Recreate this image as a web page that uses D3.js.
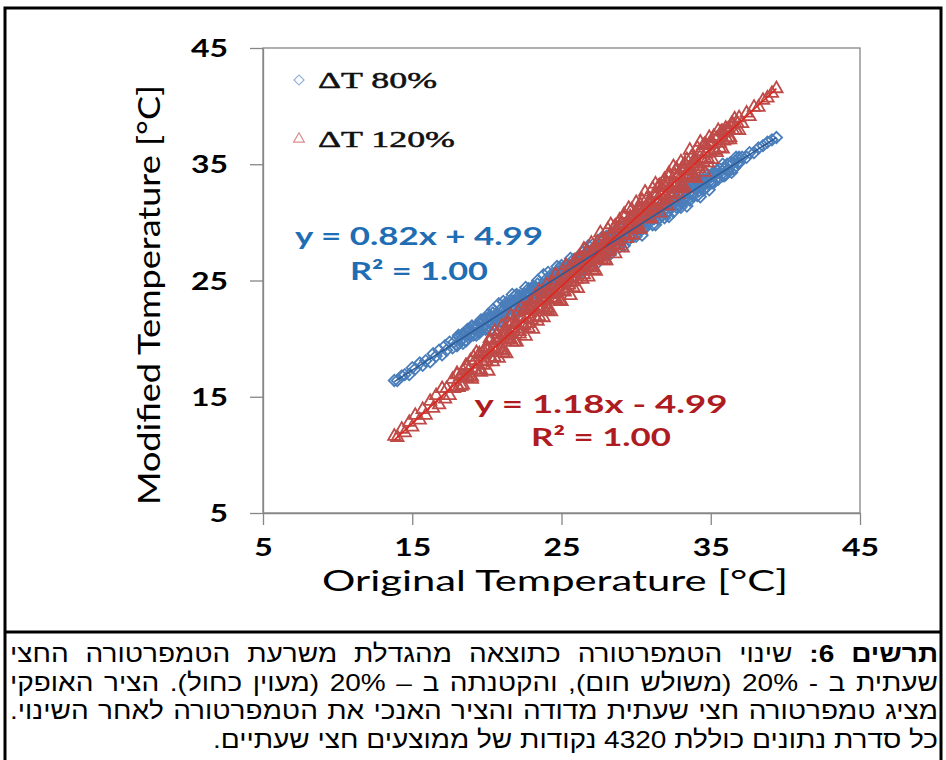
<!DOCTYPE html>
<html>
<head>
<meta charset="utf-8">
<script src="https://cdn.jsdelivr.net/npm/d3@7"></script>
<style>
  body { margin: 0; background: #fff; }
  svg { display: block; }
</style>
</head>
<body>
<svg id="chart" width="946" height="760"></svg>
<script>
// ---- data -------------------------------------------------------------
const xTicks = [5, 15, 25, 35, 45];
const yTicks = [5, 15, 25, 35, 45];

// half-hourly original temperature (°C), shared by both series
const originalTemp = [
  13.8, 14.0, 14.3, 14.5, 14.8, 15.0, 15.2, 15.5, 15.7, 15.9, 16.2, 16.4, 16.6, 16.8, 17.0, 17.2, 17.3,
  17.5, 17.7, 17.8, 18.0, 18.1, 18.3, 18.4, 18.6, 18.7, 18.9, 19.0, 19.2, 19.3, 19.5, 19.6, 19.8, 19.9,
  20.0, 20.1, 20.2, 20.3, 20.4, 20.5, 20.6, 20.7, 20.8, 20.9,
  21.0, 21.1, 21.2, 21.3, 21.4, 21.5, 21.6, 21.7, 21.8, 21.9,
  22.0, 22.1, 22.2, 22.3, 22.4, 22.5, 22.6, 22.7, 22.8, 22.9,
  23.0, 23.1, 23.2, 23.3, 23.4, 23.5, 23.6, 23.7, 23.8, 23.9,
  24.0, 24.1, 24.2, 24.3, 24.4, 24.5, 24.6, 24.7, 24.8, 24.9,
  25.0, 25.1, 25.2, 25.3, 25.4, 25.5, 25.6, 25.7, 25.8, 25.9,
  26.0, 26.1, 26.2, 26.3, 26.4, 26.5, 26.6, 26.7, 26.8, 26.9,
  27.0, 27.1, 27.2, 27.3, 27.4, 27.5, 27.6, 27.7, 27.8, 27.9,
  28.0, 28.1, 28.2, 28.3, 28.4, 28.5, 28.6, 28.7, 28.8, 28.9,
  29.0, 29.1, 29.2, 29.3, 29.4, 29.5, 29.6, 29.7, 29.8, 29.9,
  30.0, 30.1, 30.2, 30.3, 30.4, 30.5, 30.6, 30.7, 30.8, 30.9,
  31.0, 31.1, 31.2, 31.3, 31.4, 31.5, 31.6, 31.7, 31.8, 31.9,
  32.0, 32.1, 32.2, 32.3, 32.4, 32.5, 32.6, 32.7, 32.8, 32.9,
  33.0, 33.1, 33.2, 33.3, 33.4, 33.5, 33.6, 33.7, 33.8, 33.9,
  34.0, 34.1, 34.2, 34.3, 34.4, 34.5, 34.6, 34.7, 34.8, 34.9,
  35.0, 35.1, 35.3, 35.4, 35.6, 35.8, 35.9, 36.1, 36.3, 36.5, 36.7, 36.9, 37.1, 37.4, 37.6, 37.9,
  38.2, 38.5, 38.8, 39.1, 39.4,
  18.0, 18.1, 18.2, 18.3, 18.4, 18.5, 18.6, 18.7, 18.8, 18.9,
  19.0, 19.1, 19.2, 19.3, 19.4, 19.5, 19.6, 19.7, 19.8, 19.9,
  20.0, 20.1, 20.2, 20.3, 20.4, 20.5, 20.6, 20.7, 20.8, 20.9,
  21.0, 21.1, 21.2, 21.3, 21.4, 21.5, 21.6, 21.7, 21.8, 21.9,
  22.0, 22.1, 22.2, 22.3, 22.4, 22.5, 22.6, 22.7, 22.8, 22.9,
  23.0, 23.1, 23.2, 23.3, 23.4, 23.5, 23.6, 23.7, 23.8, 23.9,
  24.0, 24.1, 24.2, 24.3, 24.4, 24.5, 24.6, 24.7, 24.8, 24.9,
  25.0, 25.1, 25.2, 25.3, 25.4, 25.5, 25.6, 25.7, 25.8, 25.9,
  26.0, 26.1, 26.2, 26.3, 26.4, 26.5, 26.6, 26.7, 26.8, 26.9,
  27.0, 27.1, 27.2, 27.3, 27.4, 27.5, 27.6, 27.7, 27.8, 27.9,
  28.0, 28.1, 28.2, 28.3, 28.4, 28.5, 28.6, 28.7, 28.8, 28.9,
  29.0, 29.1, 29.2, 29.3, 29.4, 29.5, 29.6, 29.7, 29.8, 29.9,
  30.0, 30.1, 30.2, 30.3, 30.4, 30.5, 30.6, 30.7, 30.8, 30.9,
  31.0, 31.1, 31.2, 31.3, 31.4, 31.5, 31.6, 31.7, 31.8, 31.9,
  32.0, 32.1, 32.2, 32.3, 32.4, 32.5, 32.6, 32.7, 32.8, 32.9,
  33.0, 33.1, 33.2, 33.3, 33.4, 33.5, 33.6, 33.7, 33.8, 33.9,
  34.0, 34.1, 34.2, 34.3, 34.4, 34.5, 34.6, 34.7, 34.8, 34.9,
  35.0, 35.1, 35.2, 35.3, 35.4, 35.5, 35.6, 35.7, 35.8, 35.9,
  36.0, 36.1, 36.2, 36.3, 36.4, 36.5, 36.6, 36.7, 36.8, 36.9
];

// modified temperature, amplitude reduced to 80% (°C)
const modified80 = [
  16.4, 16.4, 16.8, 16.9, 16.9, 17.5, 17.4, 17.9, 17.7, 18.1, 18.0, 18.7, 18.5, 19.0, 18.6, 19.4, 19.0,
  19.7, 19.2, 19.7, 19.4, 20.2, 19.9, 20.4, 19.8, 20.5, 20.3, 21.0, 20.4, 20.9, 20.5, 21.4, 21.0, 21.7,
  21.7, 21.1, 21.6, 21.4, 22.2, 21.7, 22.1, 21.5, 22.0, 22.5,
  21.9, 22.5, 22.3, 22.9, 22.0, 22.9, 22.7, 22.9, 22.5, 23.2,
  23.1, 23.6, 22.9, 23.3, 23.2, 23.8, 23.0, 23.9, 23.9, 23.7,
  24.2, 23.5, 24.1, 23.9, 24.7, 24.2, 24.5, 23.9, 24.5, 25.0,
  24.4, 25.0, 24.7, 25.3, 24.5, 25.4, 25.2, 25.3, 24.9, 25.6,
  25.6, 26.1, 25.4, 25.7, 25.6, 26.3, 25.5, 26.4, 26.4, 26.1,
  26.6, 26.0, 26.6, 26.4, 27.1, 26.6, 27.0, 26.4, 27.0, 27.5,
  26.8, 27.4, 27.2, 27.8, 27.0, 27.8, 27.6, 27.8, 27.4, 28.1,
  28.1, 28.5, 27.8, 28.2, 28.1, 28.8, 27.9, 28.8, 28.8, 28.6,
  29.1, 28.5, 29.0, 28.8, 29.6, 29.1, 29.5, 28.8, 29.4, 29.9,
  29.3, 29.9, 29.7, 30.2, 29.4, 30.3, 30.1, 30.3, 29.9, 30.5,
  30.5, 31.0, 30.3, 30.7, 30.5, 31.2, 30.4, 31.3, 31.3, 31.1,
  31.5, 30.9, 31.5, 31.3, 32.1, 31.5, 31.9, 31.3, 31.9, 32.4,
  31.8, 32.3, 32.1, 32.7, 31.9, 32.8, 32.5, 32.7, 32.3, 33.0,
  33.0, 33.5, 32.7, 33.1, 33.0, 33.7, 32.9, 33.7, 33.7, 33.5,
  33.9, 33.4, 34.2, 33.8, 34.6, 34.0, 34.6, 34.5, 35.1, 34.6, 35.3, 35.1, 35.6, 35.6, 36.0, 36.0,
  36.4, 36.6, 36.9, 37.1, 37.3,
  19.4, 20.3, 19.8, 20.3, 19.6, 20.4, 19.9, 20.8, 20.3, 20.8,
  21.1, 20.3, 21.0, 20.3, 21.0, 20.7, 21.6, 20.9, 21.6, 20.8,
  20.9, 22.1, 20.7, 21.9, 22.5, 21.1, 22.0, 21.7, 23.0, 21.5,
  21.4, 23.2, 22.1, 23.1, 21.5, 23.0, 22.1, 23.8, 22.7, 23.7,
  23.8, 22.4, 23.7, 22.4, 23.6, 22.9, 24.4, 23.2, 24.3, 23.0,
  23.4, 24.5, 23.1, 24.4, 25.0, 23.6, 24.4, 24.1, 25.5, 24.0,
  23.9, 25.7, 24.5, 25.5, 24.0, 25.5, 24.6, 26.2, 25.1, 26.1,
  26.3, 24.9, 26.2, 24.8, 26.0, 25.4, 26.9, 25.7, 26.8, 25.4,
  25.8, 27.0, 25.6, 26.9, 27.4, 26.0, 26.9, 26.6, 28.0, 26.5,
  26.3, 28.1, 27.0, 28.0, 26.5, 27.9, 27.0, 28.7, 27.6, 28.6,
  28.8, 27.3, 28.6, 27.3, 28.5, 27.9, 29.3, 28.1, 29.2, 27.9,
  28.3, 29.5, 28.0, 29.3, 29.9, 28.5, 29.4, 29.0, 30.4, 28.9,
  28.8, 30.6, 29.5, 30.4, 28.9, 30.4, 29.5, 31.2, 30.1, 31.0,
  31.2, 29.8, 31.1, 29.8, 30.9, 30.3, 31.8, 30.6, 31.7, 30.4,
  30.7, 31.9, 30.5, 31.8, 32.4, 30.9, 31.8, 31.5, 32.9, 31.4,
  31.3, 33.0, 31.9, 32.9, 31.4, 32.9, 31.9, 33.6, 32.5, 33.5,
  33.7, 32.3, 33.5, 32.2, 33.4, 32.8, 34.3, 33.0, 34.1, 32.8,
  33.4, 34.2, 33.4, 34.1, 34.5, 33.7, 34.3, 34.1, 35.0, 34.0,
  34.1, 35.0, 34.5, 35.1, 34.3, 35.1, 34.7, 35.6, 35.1, 35.6
];

// modified temperature, amplitude increased to 120% (°C)
const modified120 = [
  11.6, 11.5, 12.2, 11.9, 12.8, 12.4, 13.4, 13.0, 13.9, 13.4, 14.6, 14.0, 15.1, 14.3, 15.7, 14.8, 15.7,
  15.1, 16.5, 15.7, 17.0, 15.8, 16.8, 16.0, 17.6, 16.8, 18.1, 16.7, 18.1, 17.3, 18.7, 17.3, 18.9, 18.1,
  18.0, 19.1, 19.8, 18.8, 19.2, 18.4, 19.9, 19.1, 19.9, 19.0,
  20.3, 19.0, 20.2, 20.8, 19.9, 20.4, 19.9, 21.4, 20.6, 21.3,
  21.2, 20.8, 20.4, 21.9, 21.7, 21.1, 22.6, 21.7, 21.3, 22.5,
  21.6, 22.7, 23.3, 22.3, 22.7, 21.9, 23.5, 22.7, 23.4, 22.5,
  23.8, 22.6, 23.8, 24.4, 23.4, 23.9, 23.4, 25.0, 24.2, 24.8,
  24.7, 24.3, 24.0, 25.5, 25.3, 24.6, 26.1, 25.2, 24.9, 26.1,
  25.1, 26.2, 26.8, 25.8, 26.3, 25.5, 27.0, 26.2, 26.9, 26.1,
  27.4, 26.1, 27.3, 27.9, 26.9, 27.5, 27.0, 28.5, 27.7, 28.3,
  28.3, 27.9, 27.5, 29.0, 28.8, 28.1, 29.7, 28.8, 28.4, 29.6,
  28.6, 29.8, 30.4, 29.4, 29.8, 29.0, 30.5, 29.8, 30.5, 29.6,
  30.9, 29.6, 30.9, 31.5, 30.5, 31.0, 30.5, 32.0, 31.3, 31.9,
  31.8, 31.4, 31.0, 32.5, 32.4, 31.7, 33.2, 32.3, 31.9, 33.2,
  32.2, 33.3, 33.9, 32.9, 33.3, 32.6, 34.1, 33.3, 34.0, 33.1,
  34.5, 33.2, 34.4, 35.0, 34.0, 34.5, 34.1, 35.6, 34.8, 35.4,
  35.3, 35.0, 34.6, 36.1, 35.9, 35.2, 36.7, 35.9, 35.5, 36.7,
  36.0, 36.9, 36.2, 37.2, 36.4, 37.8, 37.0, 38.0, 37.3, 38.4, 37.9, 39.0, 38.5, 39.4, 39.1, 39.9,
  39.9, 40.5, 40.7, 41.1, 41.5,
  16.9, 15.8, 16.7, 15.9, 17.2, 16.6, 17.7, 16.6, 17.3, 16.7,
  16.5, 18.4, 17.3, 18.8, 17.8, 18.6, 17.1, 18.7, 17.7, 19.2,
  19.3, 17.2, 20.0, 18.3, 18.0, 20.6, 19.0, 20.4, 18.3, 20.1,
  21.1, 18.8, 20.5, 18.7, 21.3, 20.0, 22.0, 19.7, 20.9, 19.7,
  19.7, 22.3, 20.6, 22.7, 21.2, 22.5, 20.2, 22.4, 20.9, 23.1,
  22.9, 20.8, 23.6, 21.8, 21.5, 24.1, 22.6, 24.0, 21.8, 23.6,
  24.6, 22.4, 24.1, 22.3, 24.8, 23.5, 25.5, 23.3, 24.5, 23.2,
  23.2, 25.8, 24.1, 26.3, 24.8, 26.0, 23.7, 25.9, 24.4, 26.7,
  26.4, 24.3, 27.1, 25.3, 25.1, 27.7, 26.1, 27.5, 25.3, 27.1,
  28.2, 25.9, 27.6, 25.8, 28.3, 27.1, 29.1, 26.8, 28.0, 26.7,
  26.7, 29.4, 27.7, 29.8, 28.3, 29.5, 27.3, 29.5, 28.0, 30.2,
  29.9, 27.8, 30.7, 28.9, 28.6, 31.2, 29.6, 31.1, 28.9, 30.7,
  31.7, 29.4, 31.2, 29.4, 31.9, 30.6, 32.6, 30.3, 31.6, 30.3,
  30.3, 32.9, 31.2, 33.3, 31.9, 33.1, 30.8, 33.0, 31.5, 33.7,
  33.5, 31.4, 34.2, 32.4, 32.1, 34.8, 33.2, 34.6, 32.4, 34.2,
  35.2, 33.0, 34.7, 32.9, 35.4, 34.1, 36.2, 33.9, 35.1, 33.8,
  33.8, 36.4, 34.8, 36.9, 35.4, 36.6, 34.3, 36.6, 35.1, 37.3,
  36.8, 35.4, 37.4, 36.2, 36.0, 37.9, 36.8, 37.8, 36.3, 37.7,
  38.1, 37.1, 38.0, 37.1, 38.5, 37.9, 38.9, 37.9, 38.5, 37.9
];

const seriesNames = ["ΔT 80%", "ΔT 120%"];
const trendSlope = [0.82, 1.18];
const trendIntercept = [4.99, -4.99];
const trendR2 = [1.00, 1.00];

const captionLead = "תרשים 6:";
const captionLines = [
  " שינוי הטמפרטורה כתוצאה מהגדלת משרעת הטמפרטורה החצי",
  "שעתית ב - 20% (משולש חום), והקטנתה ב – 20% (מעוין כחול). הציר האופקי",
  "מציג טמפרטורה חצי שעתית מדודה והציר האנכי את הטמפרטורה לאחר השינוי.",
  "כל סדרת נתונים כוללת 4320 נקודות של ממוצעים חצי שעתיים."
];

// ---- drawing ----------------------------------------------------------
const svg = d3.select("#chart");
const x = d3.scaleLinear().domain([5, 45]).range([263, 860]);
const y = d3.scaleLinear().domain([5, 45]).range([513, 48]);

const AXIS_GREY = "#868686";
const BLUE_MARK = "#4a7ebb", RED_MARK = "#be4b48";
const BLUE_TEXT = "#1f6db3", RED_TEXT = "#ae1c22";
const sansFont = "Lato, 'Open Sans', sans-serif";

// outer frame and caption separator
svg.append("path")
  .attr("d", "M5,760 V8 H941 V760")
  .attr("fill", "none").attr("stroke", "#000").attr("stroke-width", 3);
svg.append("line")
  .attr("x1", 5).attr("x2", 941).attr("y1", 632).attr("y2", 632)
  .attr("stroke", "#000").attr("stroke-width", 3);

// plot frame
svg.append("rect")
  .attr("x", x(5)).attr("y", y(45))
  .attr("width", x(45) - x(5)).attr("height", y(5) - y(45))
  .attr("fill", "none").attr("stroke", AXIS_GREY).attr("stroke-width", 1.3);

// axes
const gx = svg.append("g")
  .attr("transform", `translate(0,${y(5)})`)
  .call(d3.axisBottom(x).tickValues(xTicks).tickSize(12).tickSizeOuter(0).tickFormat(d3.format("d")));
const gy = svg.append("g")
  .attr("transform", `translate(${x(5)},0)`)
  .call(d3.axisLeft(y).tickValues(yTicks).tickSize(13).tickSizeOuter(0).tickFormat(d3.format("d")));

[gx, gy].forEach(g => {
  g.select(".domain").attr("stroke", AXIS_GREY).attr("stroke-width", 1.3);
  g.selectAll(".tick line").attr("stroke", AXIS_GREY).attr("stroke-width", 1.3);
  g.selectAll(".tick text")
    .attr("fill", "#000")
    .style("font-family", sansFont)
    .style("font-weight", "bold")
    .style("font-size", "24px")
    .attr("textLength", d => String(d).length * 18.5)
    .attr("lengthAdjust", "spacingAndGlyphs");
});
gx.selectAll(".tick text").attr("y", 43).attr("dy", null);
gy.selectAll(".tick text").attr("x", -35).attr("dy", "0.36em");

// axis titles
svg.append("text")
  .attr("x", 555).attr("y", 591)
  .attr("text-anchor", "middle")
  .attr("textLength", 466).attr("lengthAdjust", "spacingAndGlyphs")
  .style("font-family", sansFont).style("font-size", "29px")
  .text("Original Temperature [°C]");
svg.append("text")
  .attr("transform", "translate(160,295) rotate(-90)")
  .attr("text-anchor", "middle")
  .attr("textLength", 420).attr("lengthAdjust", "spacingAndGlyphs")
  .style("font-family", sansFont).style("font-size", "31px")
  .text("Modified Temperature [°C]");

// scatter points
const points = originalTemp.map((t, i) => ({ t, m80: modified80[i], m120: modified120[i] }));
const diamond = d3.symbol(d3.symbolSquare, 64);
const triangle = d3.symbol(d3.symbolTriangle, 66);

svg.append("g").selectAll("path")
  .data(points).join("path")
  .attr("d", diamond)
  .attr("transform", d => `translate(${x(d.t)},${y(d.m80)}) rotate(45)`)
  .attr("fill", "none").attr("stroke", BLUE_MARK).attr("stroke-width", 1.8);

svg.append("g").selectAll("path")
  .data(points).join("path")
  .attr("d", triangle)
  .attr("transform", d => `translate(${x(d.t)},${y(d.m120)})`)
  .attr("fill", "none").attr("stroke", RED_MARK).attr("stroke-width", 1.8);

// linear trend lines over the data range
const tRange = d3.extent(originalTemp);
const lineGen = d3.line().x(d => x(d[0])).y(d => y(d[1]));
const trendColors = ["#2b5a94", "#e0251c"];
trendSlope.forEach((s, i) => {
  svg.append("path")
    .attr("d", lineGen(tRange.map(t => [t, s * t + trendIntercept[i]])))
    .attr("fill", "none").attr("stroke", trendColors[i]).attr("stroke-width", 1.5);
});

// trend equations
const eqText = i => {
  const b = trendIntercept[i];
  return `y = ${trendSlope[i].toFixed(2)}x ${b < 0 ? "-" : "+"} ${Math.abs(b).toFixed(2)}`;
};
const eqLabels = [
  { cx: 419, y1: 245, y2: 280, w1: 248, w2: 138, color: BLUE_TEXT },
  { cx: 601, y1: 413, y2: 446, w1: 253, w2: 140, color: RED_TEXT }
];
eqLabels.forEach((p, i) => {
  svg.append("text")
    .attr("x", p.cx).attr("y", p.y1).attr("text-anchor", "middle")
    .attr("textLength", p.w1).attr("lengthAdjust", "spacingAndGlyphs")
    .attr("fill", p.color)
    .style("font-family", sansFont).style("font-weight", "bold").style("font-size", "24px")
    .text(eqText(i));
  svg.append("text")
    .attr("x", p.cx).attr("y", p.y2).attr("text-anchor", "middle")
    .attr("textLength", p.w2).attr("lengthAdjust", "spacingAndGlyphs")
    .attr("fill", p.color)
    .style("font-family", sansFont).style("font-weight", "bold").style("font-size", "24px")
    .text(`R² = ${trendR2[i].toFixed(2)}`);
});

// legend
const legend = svg.append("g");
const legendRows = [
  { y: 80, type: d3.symbolSquare, rot: 45, color: "#8fb0d8", w: 119 },
  { y: 139, type: d3.symbolTriangle, rot: 0, color: "#d9908e", w: 137 }
];
legendRows.forEach((r, i) => {
  legend.append("path")
    .attr("d", d3.symbol(r.type, 50))
    .attr("transform", `translate(299,${r.y}) rotate(${r.rot})`)
    .attr("fill", "none").attr("stroke", r.color).attr("stroke-width", 1.2);
  legend.append("text")
    .attr("x", 318).attr("y", r.y + 8)
    .attr("textLength", r.w).attr("lengthAdjust", "spacingAndGlyphs")
    .attr("fill", "#111").attr("stroke", "#111").attr("stroke-width", 0.5)
    .style("font-family", "'Liberation Serif', 'Times New Roman', serif")
    .style("font-size", "24px")
    .text(seriesNames[i]);
});

// caption: right-to-left paragraph, justified, last line flush right;
// glyphs are widened so the closing line spans the intended width
const capFont = "'Liberation Sans', Arial, 'DejaVu Sans', sans-serif";
const capSize = 24.5, capWidth = 928, capLineH = 28.5, lastLineWidth = 725, firstBaseline = 663;

const probe = d3.select("body").append("span")
  .style("position", "absolute").style("visibility", "hidden").style("white-space", "nowrap")
  .style("font-family", capFont).style("font-size", capSize + "px")
  .text(captionLines[captionLines.length - 1]);
const capStretch = lastLineWidth / probe.node().getBoundingClientRect().width;
probe.remove();

const capBox = d3.select("body").append("div")
  .attr("dir", "rtl")
  .style("position", "absolute")
  .style("left", "10px")
  .style("width", (capWidth / capStretch) + "px")
  .style("top", (firstBaseline - ((capLineH - 1.117 * capSize) / 2 + 0.905 * capSize)) + "px")
  .style("transform-origin", "0 0")
  .style("transform", `scaleX(${capStretch})`)
  .style("font-family", capFont)
  .style("font-size", capSize + "px")
  .style("line-height", capLineH + "px")
  .style("color", "#000");

captionLines.forEach((txt, i) => {
  const last = i === captionLines.length - 1;
  const row = capBox.append("div")
    .style("white-space", "nowrap")
    .style("height", capLineH + "px")
    .style("text-align", last ? "right" : "justify")
    .style("text-align-last", last ? "right" : "justify");
  if (i === 0) row.append("b").text(captionLead);
  row.append("span").text(txt);
});
</script>
</body>
</html>
